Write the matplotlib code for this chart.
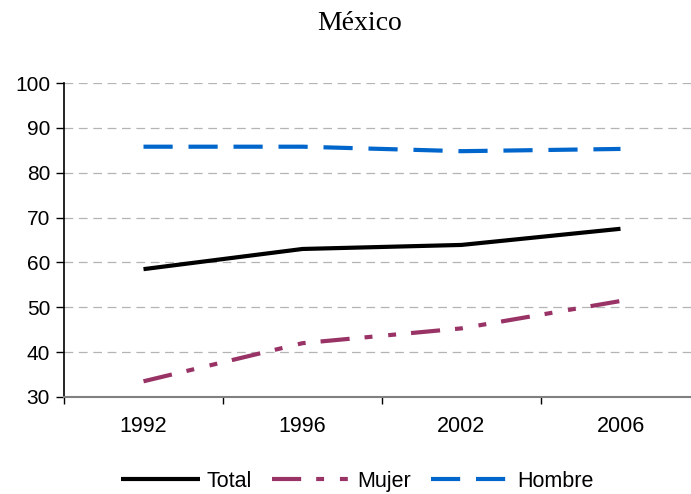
import matplotlib.pyplot as plt
import numpy as np

years = ["1992", "1996", "2002", "2006"]
total = [58.5, 63.0, 63.9, 67.5]
mujer = [33.5, 42.0, 45.3, 51.4]
hombre = [85.8, 85.8, 84.8, 85.3]

plt.rcParams["font.family"] = ["Liberation Sans", "DejaVu Sans"]

fig = plt.figure(figsize=(6.91, 4.94), dpi=100)
# axes runs a bit past the right edge, like the original
ax = fig.add_axes([64 / 691, 1 - 397 / 494, 636 / 691, 314 / 494])

x = np.arange(len(years))
lw = 3.0
ax.plot(x, total, color="black", linewidth=lw, label="Total", solid_capstyle="butt")
ax.plot(x, mujer, color="#993366", linewidth=lw, label="Mujer",
        linestyle=(0, (7.0, 3.6, 1.9, 3.8, 1.9, 3.6)), dash_capstyle="butt")
ax.plot(x, hombre, color="#0066cc", linewidth=lw, label="Hombre",
        linestyle=(0, (7.0, 3.8)), dash_capstyle="butt")

ax.set_xlim(-0.5, len(years) - 0.5)
ax.set_ylim(30, 100)
ax.set_yticks(range(30, 101, 10))
ax.set_xticks(x)
ax.set_xticklabels(years)
ax.set_xticks(np.arange(-0.5, len(years), 1.0), minor=True)
ax.tick_params(axis="x", which="major", length=0, pad=14, labelsize=15.5)
ax.tick_params(axis="x", which="minor", length=5, width=1, color="black")
ax.tick_params(axis="y", length=6, width=1, labelsize=15, pad=4)

ax.yaxis.grid(True, color="#b4b4b4", linewidth=0.9, linestyle=(0, (7, 4.5)))
ax.set_axisbelow(True)
for s in ("top", "right"):
    ax.spines[s].set_visible(False)
ax.spines["left"].set_linewidth(1.2)
ax.spines["bottom"].set_color("#808080")
ax.spines["bottom"].set_linewidth(1.5)

fig.text(360 / 691, 1 - 24 / 494, "México", ha="center", va="center",
         fontsize=20, family="Liberation Serif")

fig.legend(loc="center", bbox_to_anchor=(357 / 691, 1 - 481 / 494), ncol=3,
           frameon=False, fontsize=15.5, handlelength=3.7, handletextpad=0.3,
           columnspacing=0.9)

fig.savefig("out.png", dpi=100)
